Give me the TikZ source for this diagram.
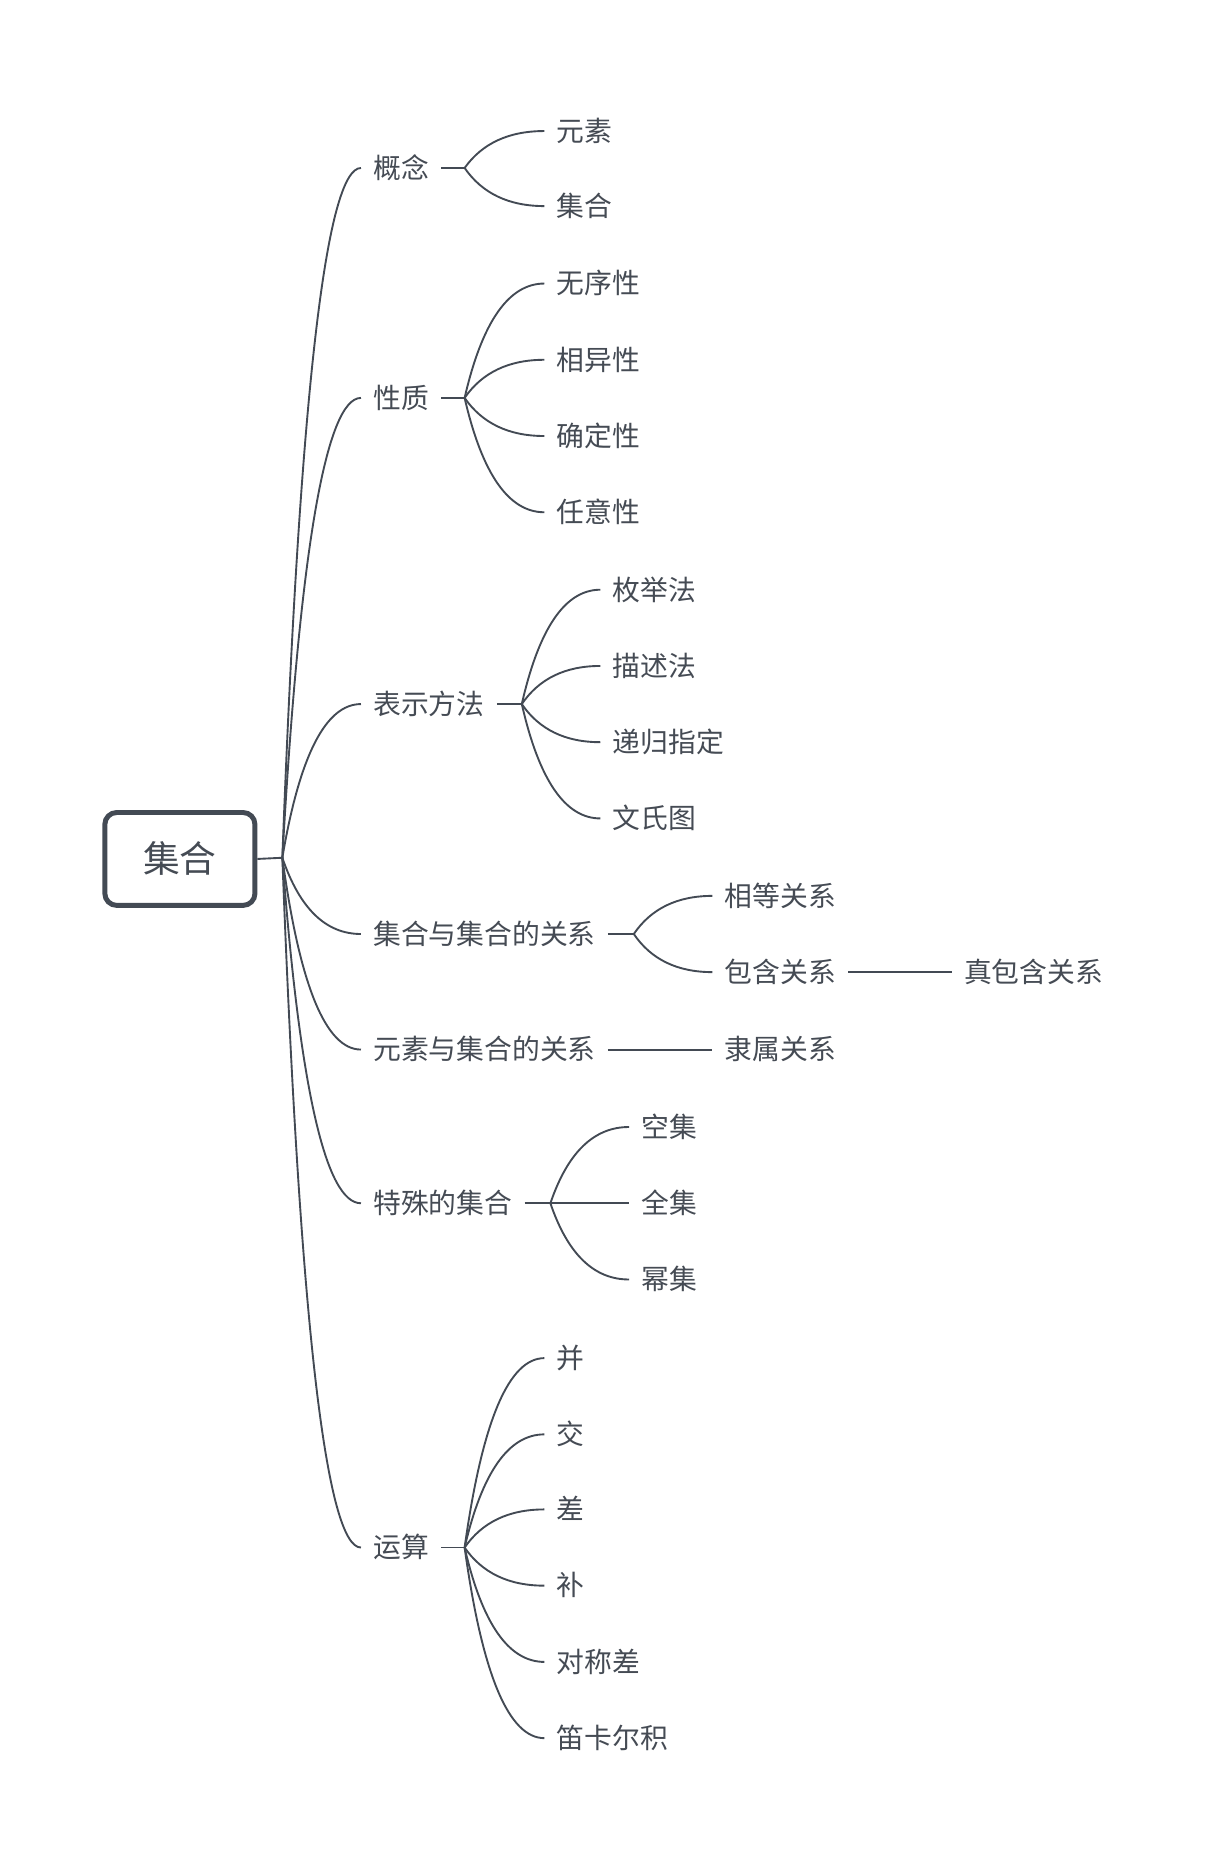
\documentclass[tikz,border=0pt]{standalone}
\usepackage{fontspec}
\setmainfont{Noto Sans CJK SC}
\usetikzlibrary{calc}
\definecolor{txt}{HTML}{454B54}
\definecolor{ln}{HTML}{434A54}
\newcommand\mmlink[2]{\draw[conn] let \p1=(#1), \p2=(#2) in (\p1) .. controls ({\x1+0.22*(\x2-\x1)},{\y1+0.667*(\y2-\y1)}) and ({\x2-0.447*(\x2-\x1)},\y2) .. (\p2);}
\begin{document}
\begin{tikzpicture}[x=0.6pt,y=-0.6pt,
  lab/.style={anchor=west,inner xsep=6pt,inner ysep=0pt,text height=1.04em,text depth=-0.04em,font=\fontsize{14}{15}\selectfont,text=txt},
  rootbox/.style={draw=ln,line width=2.5pt,rounded corners=6pt,minimum width=75.6pt,minimum height=46.8pt,inner sep=0pt,font=\fontsize{18.5}{20}\selectfont,text=txt},
  conn/.style={draw=ln,line width=0.95pt}]
\useasboundingbox (0,0) rectangle (1021,1568);
% root
\node[rootbox] (root) at (151,721) {集合};
\coordinate (hub) at (237,720);
\draw[conn] (root.east) -- (hub);
% level 1
\node[lab] (gn) at (303,141) {概念};
\node[lab] (xz) at (303,334) {性质};
\node[lab] (bs) at (303,591) {表示方法};
\node[lab] (jj) at (303,784) {集合与集合的关系};
\node[lab] (yj) at (303,881) {元素与集合的关系};
\node[lab] (ts) at (303,1010) {特殊的集合};
\node[lab] (ys) at (303,1299) {运算};
\foreach \q in {gn,xz,bs,jj,yj,ts,ys} {\mmlink{hub}{\q.west}}
% forks
\coordinate (fgn) at (390,141);
\coordinate (fxz) at (390,334);
\coordinate (fbs) at (438,591);
\coordinate (fjj) at (532,784);
\coordinate (fts) at (462,1010);
\coordinate (fys) at (390,1299);
\draw[conn] (gn.east) -- (fgn);
\draw[conn] (xz.east) -- (fxz);
\draw[conn] (bs.east) -- (fbs);
\draw[conn] (jj.east) -- (fjj);
\draw[conn] (ts.east) -- (fts);
\draw[conn] (ys.east) -- (fys);
% 概念
\node[lab] (gn1) at (457,110) {元素};
\node[lab] (gn2) at (457,173) {集合};
\foreach \q in {gn1,gn2} {\mmlink{fgn}{\q.west}}
% 性质
\node[lab] (xz1) at (457,238) {无序性};
\node[lab] (xz2) at (457,302) {相异性};
\node[lab] (xz3) at (457,366) {确定性};
\node[lab] (xz4) at (457,430) {任意性};
\foreach \q in {xz1,xz2,xz3,xz4} {\mmlink{fxz}{\q.west}}
% 表示方法
\node[lab] (bs1) at (504,495) {枚举法};
\node[lab] (bs2) at (504,559) {描述法};
\node[lab] (bs3) at (504,623) {递归指定};
\node[lab] (bs4) at (504,687) {文氏图};
\foreach \q in {bs1,bs2,bs3,bs4} {\mmlink{fbs}{\q.west}}
% 集合与集合的关系
\node[lab] (jj1) at (598,752) {相等关系};
\node[lab] (jj2) at (598,816) {包含关系};
\foreach \q in {jj1,jj2} {\mmlink{fjj}{\q.west}}
\node[lab] (jj3) at (799,816) {真包含关系};
\draw[conn] (jj2.east) -- (jj3.west);
% 元素与集合的关系
\node[lab] (yj1) at (598,881) {隶属关系};
\draw[conn] (yj.east) -- (yj1.west);
% 特殊的集合
\node[lab] (ts1) at (528,946) {空集};
\node[lab] (ts2) at (528,1010) {全集};
\node[lab] (ts3) at (528,1074) {幂集};
\foreach \q in {ts1,ts2,ts3} {\mmlink{fts}{\q.west}}
% 运算
\node[lab] (ys1) at (457,1140) {并};
\node[lab] (ys2) at (457,1204) {交};
\node[lab] (ys3) at (457,1267) {差};
\node[lab] (ys4) at (457,1331) {补};
\node[lab] (ys5) at (457,1395) {对称差};
\node[lab] (ys6) at (457,1459) {笛卡尔积};
\foreach \q in {ys1,ys2,ys3,ys4,ys5,ys6} {\mmlink{fys}{\q.west}}
\end{tikzpicture}
\end{document}
